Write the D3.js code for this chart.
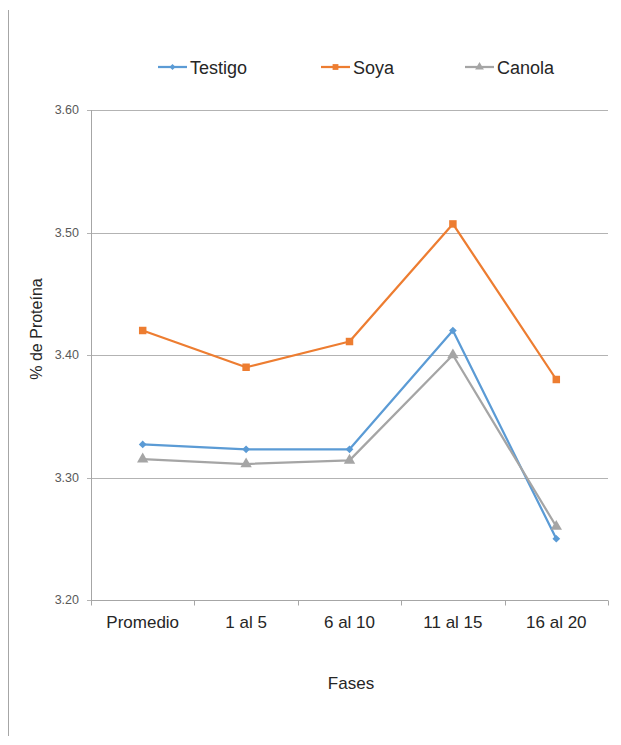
<!DOCTYPE html>
<html>
<head>
<meta charset="utf-8">
<script src="https://cdn.jsdelivr.net/npm/d3@7"></script>
<style>
  html, body { margin: 0; padding: 0; background: #fff; }
  svg { display: block; font-family: "Liberation Sans", Arial, sans-serif; }
</style>
</head>
<body>
<svg id="chart" width="621" height="745"></svg>
<script>
// Fases de muestreo y porcentaje de proteína por tratamiento
const fases = ["Promedio", "1 al 5", "6 al 10", "11 al 15", "16 al 20"];
const testigo = [3.327, 3.323, 3.323, 3.420, 3.250];
const soya = [3.420, 3.390, 3.411, 3.507, 3.380];
const canola = [3.315, 3.311, 3.314, 3.400, 3.260];
const yTicks = [3.20, 3.30, 3.40, 3.50, 3.60];

// square symbols turned 45 degrees give the diamond markers
const series = [
  { name: "Testigo", values: testigo, color: "#5b9bd5", symbol: d3.symbolSquare, size: 30, rotate: 45 },
  { name: "Soya", values: soya, color: "#ed7d31", symbol: d3.symbolSquare, size: 56, rotate: 0 },
  { name: "Canola", values: canola, color: "#a5a5a5", symbol: d3.symbolTriangle, size: 56, rotate: 0 }
];

const svg = d3.select("#chart");
const plotLeft = 91, plotRight = 608, plotTop = 110, plotBottom = 600;

// outer frame line on the left
svg.append("line")
  .attr("x1", 8.5).attr("x2", 8.5).attr("y1", 10).attr("y2", 736)
  .attr("stroke", "#a6a6a6").attr("stroke-width", 1);

const x = d3.scaleBand().domain(fases).range([plotLeft, plotRight]).padding(0);
const y = d3.scaleLinear().domain([3.2, 3.6]).range([plotBottom, plotTop]);

// horizontal gridlines
svg.append("g")
  .selectAll("line")
  .data(yTicks)
  .join("line")
  .attr("x1", plotLeft - 4).attr("x2", plotRight)
  .attr("y1", d => Math.round(y(d)) + 0.5).attr("y2", d => Math.round(y(d)) + 0.5)
  .attr("stroke", "#b3b3b3").attr("stroke-width", 1);

// y axis labels
svg.append("g")
  .selectAll("text")
  .data(yTicks)
  .join("text")
  .attr("x", plotLeft - 12)
  .attr("y", d => y(d) + 4)
  .attr("text-anchor", "end")
  .attr("font-size", 12.5)
  .attr("fill", "#595959")
  .text(d => d.toFixed(2));

// y axis line
svg.append("line")
  .attr("x1", plotLeft + 0.5).attr("x2", plotLeft + 0.5).attr("y1", plotTop).attr("y2", plotBottom)
  .attr("stroke", "#a6a6a6");

// x axis with tick marks at category boundaries
const xAxis = svg.append("g").attr("transform", `translate(0,${Math.round(y(3.2)) + 0.5})`);
xAxis.append("line").attr("x1", plotLeft).attr("x2", plotRight).attr("stroke", "#a6a6a6");
const bounds = fases.map(f => x(f)).concat([plotRight]);
xAxis.selectAll("line.tick")
  .data(bounds)
  .join("line")
  .attr("class", "tick")
  .attr("x1", d => Math.round(d) + 0.5).attr("x2", d => Math.round(d) + 0.5)
  .attr("y1", 0).attr("y2", 5)
  .attr("stroke", "#a6a6a6");
xAxis.selectAll("text")
  .data(fases)
  .join("text")
  .attr("x", d => x(d) + x.bandwidth() / 2)
  .attr("y", 27)
  .attr("text-anchor", "middle")
  .attr("font-size", 17)
  .attr("fill", "#262626")
  .text(d => d);

// axis titles
svg.append("text")
  .attr("x", 351).attr("y", 689)
  .attr("text-anchor", "middle")
  .attr("font-size", 17).attr("fill", "#262626")
  .text("Fases");
svg.append("text")
  .attr("transform", `translate(42,329) rotate(-90)`)
  .attr("text-anchor", "middle")
  .attr("font-size", 16).attr("fill", "#262626")
  .text("% de Proteína");

// lines and markers
const line = d3.line()
  .x((d, i) => x(fases[i]) + x.bandwidth() / 2)
  .y(d => y(d));

series.forEach(s => {
  svg.append("path")
    .attr("d", line(s.values))
    .attr("fill", "none")
    .attr("stroke", s.color)
    .attr("stroke-width", 2.25)
    .attr("stroke-linejoin", "round");
  svg.append("g")
    .selectAll("path")
    .data(s.values)
    .join("path")
    .attr("transform", (d, i) => `translate(${x(fases[i]) + x.bandwidth() / 2},${y(d)}) rotate(${s.rotate})`)
    .attr("d", d3.symbol().type(s.symbol).size(s.size))
    .attr("fill", s.color);
});

// legend
const legendPos = [158, 321, 465];
const legend = svg.append("g");
series.forEach((s, i) => {
  const g = legend.append("g").attr("transform", `translate(${legendPos[i]},67)`);
  g.append("line").attr("x1", 0).attr("x2", 29).attr("stroke", s.color).attr("stroke-width", 2.25);
  g.append("path").attr("transform", `translate(14.5,0) rotate(${s.rotate})`)
    .attr("d", d3.symbol().type(s.symbol).size(s.size * 0.6)).attr("fill", s.color);
  g.append("text").attr("x", 32).attr("y", 6.5)
    .attr("font-size", 18).attr("fill", "#262626").text(s.name);
});
</script>
</body>
</html>
